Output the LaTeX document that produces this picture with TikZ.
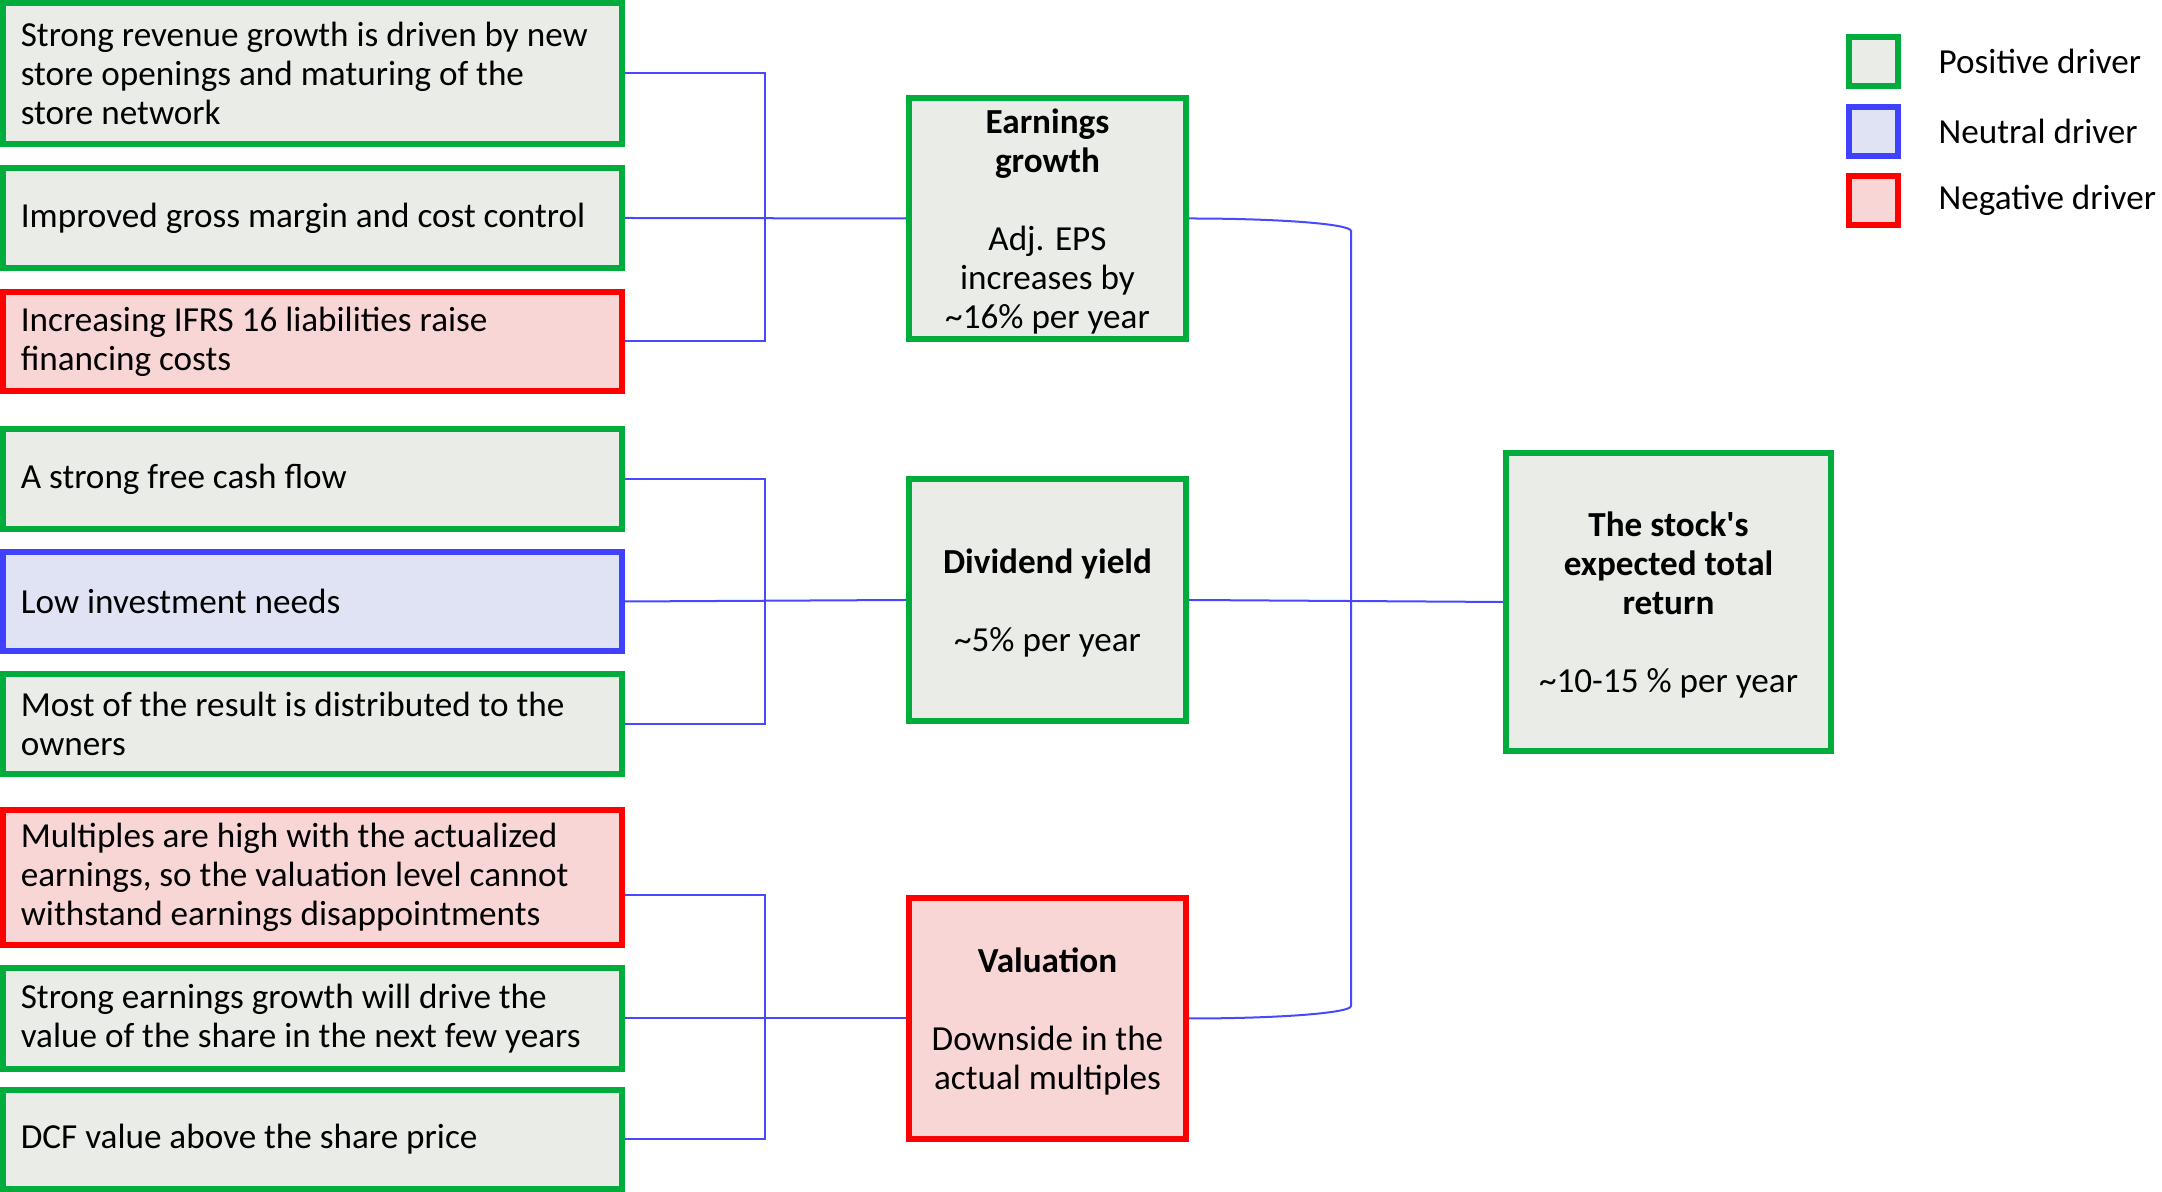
\documentclass[tikz,border=0pt]{standalone}
\usepackage{fontspec}
\setmainfont{Carlito}
\definecolor{posline}{RGB}{0,172,60}
\definecolor{posfill}{RGB}{234,237,231}
\definecolor{neuline}{RGB}{64,64,255}
\definecolor{neufill}{RGB}{224,227,244}
\definecolor{negline}{RGB}{255,0,0}
\definecolor{negfill}{RGB}{248,214,213}
\definecolor{linkblue}{RGB}{72,72,255}
\begin{document}
\begin{tikzpicture}[x=0.01cm,y=-0.01cm,
  every node/.style={font=\fontsize{10}{11.06}\selectfont,inner ysep=0pt},
  box/.style={draw,line width=0.06cm},
  driver/.style={box,text width=5.83cm,inner xsep=0.18cm,align=flush left,minimum height=#1},
  result/.style={box,minimum width=2.77cm,align=center,text depth=0pt,minimum height=#1},
  posbox/.style={draw=posline,fill=posfill},
  neubox/.style={draw=neuline,fill=neufill},
  negbox/.style={draw=negline,fill=negfill},
  link/.style={draw=linkblue,line width=0.02cm}]
  \useasboundingbox (0,0) rectangle (2162,1192);
  \def\lx{312.5}
  \def\jx{765}
  \def\mx{1047.5}
  % drivers of earnings growth
  \node[driver=1.41cm,posbox] (rev) at (\lx,73.5) {Strong revenue growth is driven by new\\store openings and maturing of the\\store network};
  \node[driver=1.00cm,posbox] (margin) at (\lx,218) {Improved gross margin and cost control};
  \node[driver=0.99cm,negbox] (ifrs) at (\lx,341.5) {Increasing IFRS 16 liabilities raise\\financing costs};
  % drivers of dividend yield
  \node[driver=0.99cm,posbox] (fcf) at (\lx,479) {A strong free cash flow};
  \node[driver=0.99cm,neubox] (capex) at (\lx,601.5) {Low investment needs};
  \node[driver=1.00cm,posbox] (payout) at (\lx,724) {Most of the result is distributed to the\\owners};
  % drivers of valuation
  \node[driver=1.35cm,negbox] (mult) at (\lx,877.5) {Multiples are high with the actualized\\earnings, so the valuation level cannot\\withstand earnings disappointments};
  \node[driver=1.01cm,posbox] (share) at (\lx,1018.5) {Strong earnings growth will drive the\\value of the share in the next few years};
  \node[driver=0.99cm,posbox] (dcf) at (\lx,1139.5) {DCF value above the share price};
  % middle column
  \node[result=2.41cm,posbox] (earn) at (\mx,218.5) {\textbf{Earnings}\\\textbf{growth}\\[11.06pt]Adj. EPS\\increases by\\\textasciitilde16\% per year};
  \node[result=2.42cm,posbox] (div) at (\mx,600) {\textbf{Dividend yield}\\[11.06pt]\textasciitilde5\% per year};
  \node[result=2.41cm,negbox] (val) at (\mx,1018.5) {\textbf{Valuation}\\[11.06pt]Downside in the\\actual multiples};
  % total return
  \node[result=2.98cm,posbox,minimum width=3.25cm] (total) at (1668.5,602) {\textbf{The stock\textquotesingle s}\\\textbf{expected total}\\\textbf{return}\\[11.06pt]\textasciitilde10-15 \% per year};
  % legend
  \node[box,posbox,minimum size=0.49cm,inner sep=0pt] (lpos) at (1873.5,61.5) {};
  \node[box,neubox,minimum size=0.49cm,inner sep=0pt] (lneu) at (1873.5,131.5) {};
  \node[box,negbox,minimum size=0.49cm,inner sep=0pt] (lneg) at (1873.5,200.5) {};
  \node[anchor=west,inner sep=0pt] (lpostxt) at (1938,61.5) {Positive driver};
  \node[anchor=west,inner sep=0pt] (lneutxt) at (1938,131.5) {Neutral driver};
  \node[anchor=west,inner sep=0pt] (lnegtxt) at (1938,200.5) {Negative driver};
  % connectors
  \coordinate (j1) at (\jx,218);
  \coordinate (j2) at (\jx,601);
  \coordinate (j3) at (\jx,1018.5);
  \draw[link] (rev.east) -| (j1) |- (ifrs.east);
  \draw[link] (margin.east) -- (earn.west);
  \draw[link] (fcf.east) -| (j2) |- (payout.east);
  \draw[link] (capex.east) -- (div.west);
  \draw[link] ([yshift=-0.175cm]mult.east) -| (j3) |- (dcf.east);
  \draw[link] (share.east) -- (val.west);
  \coordinate (rt) at (1351,231);
  \coordinate (rb) at (1351,1006);
  \draw[link] (earn.east) .. controls +(90,0) and +(0,-7) .. (rt) -- (rb) .. controls +(0,7) and +(90,0) .. (val.east);
  \draw[link] (div.east) -- (total.west);
\end{tikzpicture}
\end{document}
